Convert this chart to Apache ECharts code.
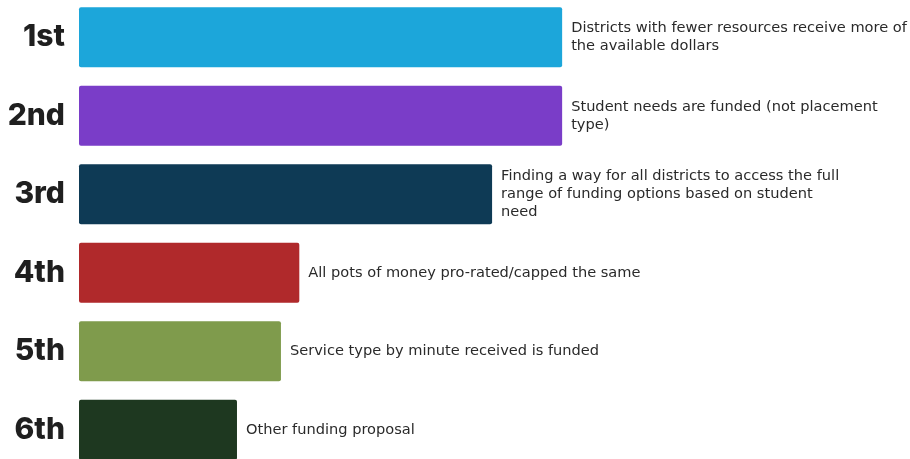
<!DOCTYPE html>
<html>
<head>
<meta charset="utf-8">
<script src="https://cdn.jsdelivr.net/npm/echarts@6/dist/echarts.min.js"></script>
<style>
  html, body { margin: 0; padding: 0; background: #ffffff; }
  #chart { width: 910px; height: 459px; }
</style>
</head>
<body>
<div id="chart"></div>
<script>
// Priority ranks, top to bottom
const ranks = ['1st', '2nd', '3rd', '4th', '5th', '6th'];

// Relative support for each funding priority (1st = 100)
const scores = [100, 100, 85.5, 45.6, 41.8, 32.7];

// Priority descriptions shown beside each bar
const descriptions = [
  'Districts with fewer resources receive more of\nthe available dollars',
  'Student needs are funded (not placement\ntype)',
  'Finding a way for all districts to access the full\nrange of funding options based on student\nneed',
  'All pots of money pro-rated/capped the same',
  'Service type by minute received is funded',
  'Other funding proposal'
];

// Bar colours per rank
const barColors = ['#1ca6da', '#7a3dc8', '#0e3a55', '#b0292b', '#7f9b4c', '#1e3820'];

const chart = echarts.init(document.getElementById('chart'), null, { renderer: 'canvas' });

chart.setOption({
  backgroundColor: '#ffffff',
  animation: false,
  grid: {
    left: 79, top: -2, width: 831, height: 471,
    containLabel: false,
    outerBoundsMode: 'none'
  },
  xAxis: {
    type: 'value',
    min: 0,
    max: 172,
    show: false
  },
  yAxis: {
    type: 'category',
    inverse: true,
    data: ranks,
    axisLine: { show: false },
    axisTick: { show: false },
    splitLine: { show: false },
    axisLabel: {
      margin: 14,
      color: '#1f1f1f',
      fontFamily: 'Inter',
      fontWeight: 800,
      fontSize: 30,
      letterSpacing: -1
    }
  },
  series: [{
    type: 'bar',
    barWidth: 60,
    data: scores.map((v, i) => ({
      value: v,
      itemStyle: { color: barColors[i], borderRadius: 2 },
      label: { formatter: descriptions[i] }
    })),
    label: {
      show: true,
      position: 'right',
      distance: 9,
      color: '#2a2a2a',
      fontFamily: 'DejaVu Sans',
      fontSize: 14.6,
      lineHeight: 18
    }
  }]
});
</script>
</body>
</html>
